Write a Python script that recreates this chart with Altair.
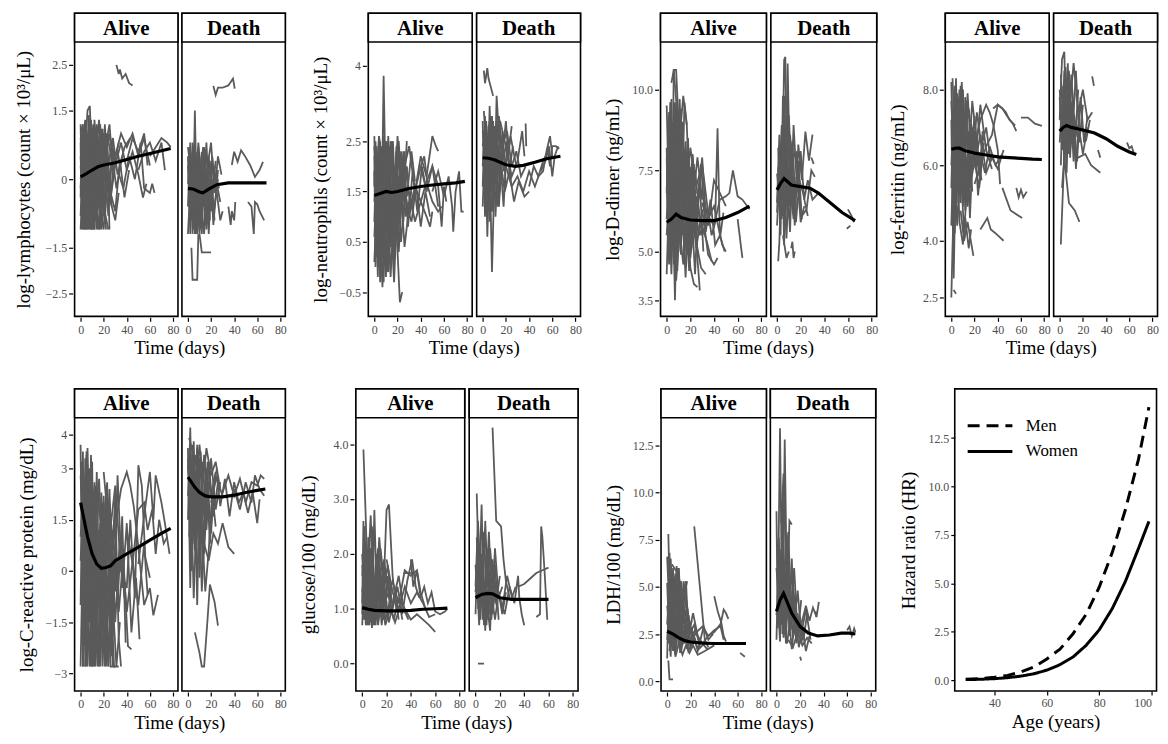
import altair as alt
import pandas as pd

SERIF = "Liberation Serif, Times New Roman, Tinos, DejaVu Serif, serif"
GRAY = "#5a5a5a"
HDR = 29

# ---------------- data: trajectories (day, value) ----------------
LYM_A = [
    [(0,1.2),(2,-1.1),(4,0.9),(6,-0.5),(8,1.1),(12,-1.1)],
    [(0,-0.4),(1,1.0),(3,-1.1),(5,0.8),(7,-0.9),(10,0.6),(14,-0.3)],
    [(0,0.5),(2,-0.8),(4,1.2),(7,-1.1),(9,0.7),(13,-0.6),(17,0.9)],
    [(1,-1.1),(3,0.3),(6,1.5),(8,1.6),(10,0.2),(12,1.0),(15,-1.1)],
    [(0,0.9),(3,-0.2),(5,-1.1),(8,0.4),(11,1.2),(14,-0.8),(18,0.6),(22,-1.1)],
    [(2,0.7),(4,-1.0),(7,0.9),(10,-1.1),(13,0.5),(16,1.3),(19,-0.2),(23,0.9),(25,-1.1)],
    [(0,-0.8),(3,1.1),(6,0.0),(9,-1.1),(12,0.8),(15,-0.5),(18,1.1),(21,-0.9),(24,0.4)],
    [(1,0.2),(4,-0.6),(6,0.6),(9,1.3),(12,-0.2),(16,-1.1),(19,0.7),(22,1.0),(26,-0.4),(30,0.3)],
    [(0,0.0),(2,0.4),(5,-0.9),(8,-0.1),(11,-1.1),(14,0.3),(17,-0.7),(20,-1.1),(23,0.2),(27,-0.6)],
    [(0,1.0),(2,1.2),(4,0.1),(7,-0.3),(10,0.9),(13,1.1),(16,0.1),(20,0.5),(25,1.2),(28,0.2),(33,0.8)],
    [(3,-1.1),(6,-0.4),(9,0.3),(12,-0.9),(15,0.9),(18,-0.4),(21,0.3),(24,-0.8),(27,0.6),(31,-0.2),(36,0.5)],
    [(5,0.2),(8,-0.7),(11,0.5),(14,1.2),(17,0.4),(20,1.0),(24,0.3),(28,0.9),(32,0.1),(38,0.7),(43,0.9)],
    [(10,-0.5),(14,0.2),(18,-0.8),(22,0.6),(26,-0.3),(30,-0.7),(34,0.4),(38,-0.4),(42,0.2)],
    [(20,0.6),(25,1.0),(30,0.3),(35,0.8),(40,0.2),(45,0.6),(50,0.1),(54,-0.4),(57,-0.1)],
    [(25,0.9),(30,0.5),(35,1.0),(40,0.7),(45,1.0),(50,0.5),(55,0.9),(60,0.3)],
    [(32,0.2),(37,-0.2),(42,0.5),(47,0.0),(52,0.8),(55,-0.2),(60,-0.3),(62,-0.1),(64,-0.3)],
    [(40,0.4),(45,0.9),(50,0.6),(55,1.0),(58,0.3)],
    [(50,0.2),(55,0.6),(60,0.8),(65,0.4),(70,0.8),(73,0.2)],
    [(60,0.5),(65,0.7),(70,0.9),(75,0.8),(78,0.7)],
    [(31,2.5),(33,2.3),(34,2.4),(36,2.2),(39,2.3),(42,2.1),(45,2.05)],
    [(0,-1.1),(3,0.5),(5,-1.1),(8,-0.2),(11,-1.1),(14,0.1),(18,-1.1),(20,-0.6),(24,-1.1)],
    [(1,0.6),(4,1.3),(7,0.2),(10,0.9),(13,-0.4),(16,0.7),(20,0.0),(23,1.0),(27,0.4)],
    [(2,-0.2),(5,0.5),(8,-1.1),(11,-0.2),(14,0.6),(17,-1.0),(20,0.2),(24,-0.3),(30,-0.9),(33,-0.3)],
    [(0,0.3),(2,-0.6),(5,1.1),(8,0.5),(11,-0.5),(13,0.4),(16,-0.6),(19,0.1)],
    [(0,0.8),(1,-0.9),(3,0.6),(5,1.0),(7,-0.6),(9,-1.1),(11,0.8),(13,-0.9),(16,0.4),(19,1.1),(22,-0.4)],
    [(1,-0.6),(2,0.9),(4,-0.3),(6,-1.1),(8,0.9),(10,-0.7),(12,1.3),(15,0.2),(17,-1.1),(21,0.8),(25,0.0)],
    [(0,-0.2),(2,1.1),(4,-1.1),(6,0.4),(9,-0.6),(11,0.2),(14,-1.1),(17,1.2),(20,-0.8),(23,0.7),(26,-0.5),(29,0.6)],
    [(3,1.0),(5,-0.4),(7,1.4),(10,0.5),(12,-1.1),(15,0.5),(18,-0.6),(21,1.2),(24,-0.2),(28,0.5),(32,0.6),(35,0.2)],
]
LYM_D = [
    [(0,0.5),(2,-1.2),(4,0.3),(6,-0.8),(8,0.6),(11,-1.1)],
    [(0,-0.6),(2,0.8),(4,-1.2),(6,1.5),(7,0.2),(10,-0.9),(13,0.4)],
    [(1,0.2),(3,-0.9),(5,0.7),(8,-1.2),(10,0.5),(13,-0.6),(16,0.8),(19,-0.9)],
    [(0,-1.2),(2,-0.2),(5,-1.1),(8,0.3),(11,-0.4),(14,-1.2),(17,0.2),(20,-0.7),(24,0.4)],
    [(0,0.7),(3,0.1),(6,-0.5),(9,0.8),(12,-0.2),(15,0.6),(18,-1.2),(21,0.5),(25,-0.4)],
    [(2,-0.8),(4,0.6),(7,-0.1),(10,-1.2),(13,0.7),(16,-0.5),(19,0.4),(22,-1.0),(26,0.2)],
    [(1,-0.3),(3,0.4),(6,-1.2),(9,-0.5),(12,0.6),(15,-1.0),(18,-0.2),(22,0.3),(28,-0.5)],
    [(3,-1.5),(4,-2.2),(8,-2.2),(9,-1.2)],
    [(10,-1.2),(12,-1.6),(20,-1.6)],
    [(22,2.04),(24,1.84),(26,2.0),(30,2.0),(35,2.05),(39,2.2),(40.5,1.98)],
    [(38,0.31),(40,0.6),(43,0.38),(46,0.63),(49,0.52),(54,0.3),(58,0.05),(62,0.2),(65,0.38)],
    [(24,-0.1),(26,-0.5),(28,-0.9),(30,-0.7)],
    [(35,-0.6),(37,-1.0),(38,-0.7),(40,-0.9),(41,-0.5)],
    [(52,-0.5),(55,-0.6),(57,-1.2),(58,-0.5),(60,-0.55),(62,-0.7),(66,-0.9)],
    [(0,0.3),(2,-0.5),(4,0.8),(7,0.1),(9,-0.7),(12,0.2),(15,-0.4),(18,0.5),(20,-0.2),(23,0.1),(27,-0.2)],
    [(14,0.7),(17,0.3),(20,0.8),(23,-0.3),(26,0.5),(29,0.1)],
    [(0,-0.1),(2,0.6),(4,-0.9),(6,0.4),(8,-1.0),(10,0.0),(12,-1.2),(14,0.3),(17,-0.6),(20,0.2),(23,-0.9)],
    [(1,0.7),(3,-0.6),(5,0.2),(7,-1.2),(9,0.7),(11,-0.8),(13,0.5),(16,-1.1),(19,-0.3),(22,-0.8),(26,0.0)],
]
LYM_A_FIT = [(0,0.05),(5,0.12),(10,0.2),(15,0.27),(20,0.31),(30,0.36),(40,0.43),(50,0.5),(60,0.56),(70,0.62),(78,0.67)]
LYM_D_FIT = [(0,-0.2),(5,-0.22),(10,-0.28),(13,-0.3),(18,-0.22),(25,-0.12),(35,-0.08),(50,-0.08),(68,-0.08)]

NEU_A = [
    [(0,2.6),(2,0.2),(4,2.2),(6,0.5),(8,3.8),(10,1.2),(13,2.4)],
    [(0,0.9),(2,2.4),(4,0.0),(6,1.8),(8,-0.3),(10,1.5),(13,0.4),(16,2.1)],
    [(1,1.5),(3,-0.2),(5,2.5),(7,0.8),(9,2.0),(12,-0.1),(15,1.6),(18,0.6)],
    [(0,0.1),(3,1.9),(5,0.6),(8,2.6),(11,0.9),(14,2.5),(17,1.0),(20,2.2)],
    [(2,2.3),(4,1.0),(7,-0.4),(9,1.1),(12,2.6),(15,0.5),(18,1.9),(21,0.3),(24,1.5)],
    [(0,1.9),(2,0.5),(5,1.3),(8,0.3),(11,1.8),(14,-0.2),(17,1.2),(20,2.6),(23,1.1),(26,2.3)],
    [(1,0.4),(4,2.6),(7,1.5),(10,0.0),(13,1.3),(16,2.5),(19,0.8),(22,-0.7),(24,-0.5)],
    [(3,1.2),(6,2.1),(9,0.6),(12,1.7),(15,2.3),(18,1.3),(21,2.5),(25,0.9),(28,2.0),(31,1.1)],
    [(0,1.3),(2,2.0),(5,-0.3),(8,1.9),(11,2.4),(14,1.1),(17,-0.3),(20,1.4),(24,2.0),(28,1.4),(32,2.3),(35,1.7)],
    [(5,0.9),(9,2.3),(13,0.7),(17,2.0),(21,1.0),(25,2.3),(29,0.8),(33,1.9),(37,1.1),(41,2.0),(45,1.5)],
    [(8,1.8),(12,1.0),(16,1.6),(20,0.6),(24,1.8),(28,1.2),(32,0.9),(36,1.6),(40,0.8),(44,1.5),(48,1.0)],
    [(15,2.1),(20,1.4),(25,1.9),(30,2.4),(35,1.5),(40,2.2),(45,1.8),(50,2.6),(53,2.4),(55,2.3)],
    [(20,1.2),(25,1.7),(30,1.0),(35,1.5),(40,2.0),(43,2.2),(46,1.6),(50,1.3),(55,1.1),(58,1.2)],
    [(30,1.5),(35,0.9),(40,1.3),(45,1.0),(48,0.8),(50,1.1)],
    [(40,2.0),(45,1.5),(50,2.0),(55,1.6),(58,0.8),(60,1.6),(62,1.3)],
    [(50,1.5),(55,1.9),(60,1.4),(64,1.8),(67,1.2),(68,0.7),(70,1.5),(73,1.9),(75,1.1),(77,1.1)],
    [(30,1.1),(35,1.6),(40,1.3),(45,1.7),(50,2.0),(55,1.2)],
    [(0,2.2),(1,0.0),(3,1.7),(6,2.4),(9,0.4),(12,-0.1),(14,0.9)],
    [(2,1.1),(5,1.8),(8,0.1),(11,2.2),(14,1.6),(17,0.1),(20,1.7),(23,0.5),(27,1.6)],
    [(0,0.6),(2,1.6),(4,2.6),(7,2.0),(10,2.5),(13,1.8),(16,0.3),(19,2.4),(22,1.9),(26,0.4),(30,1.2)],
    [(0,1.6),(1,2.5),(3,0.8),(5,1.9),(7,0.2),(9,2.4),(11,0.7),(13,1.9),(16,0.9),(19,2.3),(22,1.0)],
    [(1,0.7),(3,2.2),(6,0.9),(8,2.2),(10,-0.2),(12,1.4),(15,2.5),(18,0.5),(21,1.8),(25,1.3),(28,2.5)],
    [(0,2.4),(2,1.2),(4,1.7),(6,0.1),(9,1.5),(11,2.1),(14,0.4),(17,2.0),(20,0.9),(23,2.3),(27,1.0),(32,1.5)],
]
NEU_D = [
    [(0,2.9),(2,1.0),(4,2.6),(6,1.4),(8,3.0),(10,1.8),(13,2.6)],
    [(0,1.6),(2,3.0),(4,0.6),(6,2.2),(8,-0.1),(10,1.7),(12,2.9),(15,1.5)],
    [(1,2.2),(3,1.2),(5,2.8),(7,1.6),(9,2.9),(11,1.0),(14,2.4),(17,1.8)],
    [(0,2.4),(3,2.9),(5,1.9),(8,1.1),(11,2.6),(14,1.3),(17,2.7),(20,1.6)],
    [(2,1.8),(4,2.4),(7,3.0),(10,1.4),(12,3.4),(15,2.2),(18,1.2),(21,2.5),(24,1.7)],
    [(0,1.2),(2,2.5),(5,1.5),(8,2.7),(11,2.0),(14,3.0),(17,2.2),(20,2.9),(23,1.9),(26,2.4)],
    [(1,3.1),(4,2.0),(7,2.5),(10,2.2),(13,1.2),(16,2.0),(19,1.5),(23,1.9),(27,1.3),(31,1.7),(36,1.4),(40,1.5)],
    [(5,2.3),(9,1.5),(13,2.8),(17,2.4),(21,2.7),(25,2.0),(29,2.3),(33,1.8),(37,2.0)],
    [(10,2.6),(15,1.9),(20,2.4),(25,1.8),(30,2.1),(34,2.7),(36,2.2)],
    [(37,2.85),(37.5,2.4)],
    [(1,3.9),(2,3.65),(4,3.95),(5,3.75),(9,3.4)],
    [(20,2.0),(25,1.6),(30,1.8),(35,1.5),(40,1.9),(45,1.6),(48,1.8),(52,1.9),(55,2.3),(58,2.6),(60,2.2)],
    [(40,1.6),(44,2.0),(48,1.8),(52,2.1),(56,2.3),(58,2.0),(60,2.4),(63,2.4),(66,2.35)],
    [(50,1.9),(54,2.1),(57,2.4),(60,1.8),(62,2.2),(65,2.4)],
    [(1,2.0),(3,1.4),(5,2.2),(6,0.9),(8,1.9),(10,2.3),(12,1.5),(15,2.6),(18,1.9)],
    [(0,2.7),(3,2.2),(6,2.9),(9,2.0),(12,2.4),(15,2.9),(18,2.6),(22,2.2),(25,2.8)],
    [(0,2.0),(2,2.8),(4,1.3),(6,3.2),(8,1.6),(10,2.8),(12,2.0),(14,1.2),(17,2.4),(20,2.0),(24,2.6),(29,2.0)],
]
NEU_A_FIT = [(0,1.42),(5,1.46),(10,1.5),(15,1.48),(20,1.5),(30,1.56),(40,1.6),(50,1.63),(60,1.65),(70,1.67),(78,1.7)]
NEU_D_FIT = [(0,2.17),(5,2.16),(10,2.13),(15,2.08),(20,2.03),(28,2.0),(35,2.02),(45,2.08),(55,2.15),(67,2.2)]

DDI_A = [
    [(0,8.2),(2,5.0),(4,9.7),(6,4.6),(8,9.5),(10,5.3),(13,8.0)],
    [(0,6.0),(2,7.8),(4,4.8),(6,10.6),(8,10.6),(10,9.0),(13,5.5),(16,7.2)],
    [(1,5.2),(3,8.8),(5,6.1),(7,9.6),(9,4.4),(12,8.4),(15,5.0),(18,7.6)],
    [(0,7.0),(2,5.6),(4,8.6),(7,3.5),(9,6.7),(12,9.4),(15,4.6),(18,8.5),(21,5.4)],
    [(2,6.5),(4,4.3),(7,8.9),(10,5.8),(13,9.0),(16,6.3),(19,4.4),(22,7.9),(25,5.2)],
    [(0,5.5),(3,7.4),(6,5.9),(9,8.2),(12,4.9),(15,9.6),(17,8.9),(20,6.0),(23,7.7),(26,4.8),(28,3.8)],
    [(1,9.0),(4,7.3),(7,5.2),(10,7.9),(13,6.4),(16,4.2),(19,6.9),(22,8.0),(25,5.8),(28,7.1),(31,5.0)],
    [(3,4.8),(6,6.7),(9,5.4),(12,6.8),(15,7.9),(18,5.2),(21,6.3),(24,4.3),(27,6.8),(30,7.9),(33,6.1)],
    [(5,7.5),(9,6.0),(13,7.2),(17,5.7),(21,7.4),(25,6.2),(29,7.7),(33,5.6),(37,6.6),(41,5.2),(45,5.5),(49,5.0)],
    [(10,6.5),(15,5.4),(20,6.8),(25,5.1),(30,6.3),(35,4.9),(40,4.6),(43,4.8)],
    [(15,6.0),(20,8.2),(25,7.0),(30,7.7),(35,6.2),(38,5.5),(41,5.9),(43,8.8),(45,5.4),(48,6.2)],
    [(20,5.9),(25,6.7),(30,5.5),(35,6.1),(40,5.8),(45,6.6),(50,6.7),(53,6.8),(56,7.5),(60,6.7),(64,6.6),(70,6.3)],
    [(25,6.5),(30,6.9),(35,6.0),(40,6.4),(44,5.7),(47,5.2),(50,5.0)],
    [(60,6.0),(64,4.8)],
    [(0,4.3),(2,6.8),(4,5.4),(6,7.2),(8,4.1),(11,5.7),(14,4.6),(17,6.3),(20,4.5),(23,4.0),(26,3.9)],
    [(4,10.2),(6,10.6),(9,9.2),(11,8.5),(14,9.8),(17,8.9)],
    [(0,6.8),(2,9.3),(4,6.2),(7,7.7),(10,5.0),(13,7.0),(16,8.4),(19,5.8),(22,6.5),(26,7.9),(30,6.6)],
    [(30,6.5),(35,5.8),(40,7.2),(45,6.8),(50,6.4)],
    [(1,7.6),(3,5.8),(5,9.0),(8,6.4),(11,9.7),(14,5.9),(17,8.0),(20,4.8),(24,6.2),(28,5.5),(32,6.0)],
    [(0,9.5),(2,6.4),(4,5.0),(6,8.7),(8,5.6),(10,9.2),(12,6.6),(15,7.0),(18,4.9),(21,7.1),(25,6.8)],
    [(1,6.3),(3,9.6),(5,7.0),(7,4.7),(10,8.8),(12,5.3),(14,7.4),(17,5.0),(20,7.6),(24,5.5),(29,4.5),(33,4.3)],
    [(0,7.9),(2,4.6),(5,8.0),(7,6.9),(9,9.4),(12,5.9),(15,8.1),(18,6.6),(21,5.1),(24,7.5),(28,6.0),(34,5.3),(38,4.7)],
]
DDI_D = [
    [(0,6.5),(2,8.6),(4,6.0),(6,10.9),(7,11.0),(8,8.3),(10,6.2)],
    [(1,7.6),(3,5.5),(5,9.8),(7,6.4),(9,10.8),(11,7.0),(14,6.0)],
    [(0,5.8),(2,7.2),(4,8.9),(6,5.2),(8,8.0),(10,6.8),(13,8.4),(16,6.3)],
    [(1,4.7),(2,5.3),(4,7.8),(7,7.0),(10,9.2),(12,7.5),(15,6.6),(18,7.8),(21,6.0)],
    [(3,6.8),(5,7.6),(8,5.4),(11,7.9),(14,6.2),(17,7.4),(20,5.9),(23,6.4)],
    [(0,7.4),(3,6.3),(6,8.7),(9,6.0),(12,7.7),(15,5.8),(18,8.3),(21,7.2),(24,8.7),(27,7.8),(30,8.6)],
    [(5,5.5),(8,4.8),(10,5.0)],
    [(12,5.1),(13,5.3),(14,4.8),(15,5.0)],
    [(2,6.9),(5,6.1),(8,7.6),(11,5.6),(14,8.9),(17,6.9),(20,8.1),(23,6.6),(26,7.2),(30,6.6),(35,6.8)],
    [(10,7.1),(14,6.5),(18,7.0),(21,6.1),(25,6.3),(29,7.5),(32,7.3)],
    [(29,7.9),(31,7.7)],
    [(60,6.3),(63,6.1),(65,5.9)],
    [(59,5.7),(62,5.8)],
    [(0,6.2),(2,7.9),(4,6.8),(6,9.3),(8,7.2),(11,8.6),(13,7.8),(16,8.1),(19,6.7)],
    [(4,8.0),(6,9.8),(8,7.4),(9,9.5),(12,6.9),(15,7.3)],
    [(1,8.2),(3,6.6),(5,8.4),(7,5.9),(9,7.8),(11,6.4),(13,7.6),(16,5.9),(19,7.2),(22,6.8),(26,6.1)],
]
DDI_A_FIT = [(0,5.9),(4,6.0),(8,6.15),(12,6.05),(20,5.97),(30,5.95),(40,5.95),(50,6.05),(60,6.2),(70,6.4)]
DDI_D_FIT = [(0,6.9),(3,7.1),(6,7.25),(9,7.15),(12,7.05),(20,7.0),(28,6.95),(35,6.8),(45,6.5),(55,6.2),(66,5.95)]

FER_A = [
    [(0,8.2),(2,5.2),(4,8.3),(6,5.8),(8,8.1),(10,6.1),(13,7.7)],
    [(0,5.4),(2,7.9),(4,4.8),(6,7.6),(8,5.0),(10,8.0),(13,5.5),(16,7.2)],
    [(1,6.6),(3,4.2),(5,7.9),(7,5.6),(9,7.3),(12,4.8),(15,6.9),(18,5.3)],
    [(0,7.2),(2,3.0),(4,6.2),(7,8.0),(10,5.2),(13,7.6),(16,4.6),(19,6.8)],
    [(0,2.5),(1,3.8),(3,5.9),(5,4.4),(8,6.0),(11,4.2),(14,5.7)],
    [(2,2.7),(4,2.6)],
    [(2,7.5),(5,5.9),(8,7.2),(11,6.0),(14,7.9),(17,6.3),(20,7.3),(24,5.7),(27,6.9)],
    [(4,6.3),(7,7.8),(10,5.7),(13,6.8),(16,5.4),(19,6.4),(22,7.4),(26,6.5),(30,7.0),(34,6.1)],
    [(1,5.7),(4,6.9),(7,4.5),(10,3.9),(12,4.6),(15,3.8),(17,4.3)],
    [(8,4.8),(11,4.0),(14,4.5),(19,3.6)],
    [(5,7.0),(10,6.5),(15,7.5),(20,6.0),(25,6.8),(30,5.8),(35,6.2),(40,5.9),(45,6.4)],
    [(10,6.2),(15,5.2),(20,6.5),(25,7.2),(30,7.6),(33,7.4),(36,7.1),(40,6.4),(42,5.5)],
    [(20,5.5),(25,6.0),(30,6.5),(35,6.8),(40,7.6),(44,7.5),(48,7.3),(53,7.1),(56,6.9)],
    [(25,4.3),(31,4.6),(34,4.3),(38,4.2),(45,4.0)],
    [(44,5.4),(51,4.8),(61,4.6)],
    [(56,5.4),(58,5.15),(60,5.35),(62,5.15),(65,5.3)],
    [(60,7.26),(66,7.26),(72,7.1),(78,7.04)],
    [(36,7.5),(40,7.6),(44,7.5),(47,7.4),(50,7.2),(55,7.05)],
    [(0,6.0),(3,8.1),(6,5.5),(9,7.6),(12,5.9),(15,6.4),(18,7.0),(21,5.9),(25,6.3),(29,5.8),(33,6.5),(38,6.0),(44,6.3)],
    [(2,4.9),(5,7.1),(8,5.3),(11,6.7),(14,4.9),(17,6.0),(20,6.9),(23,5.2),(26,6.1)],
    [(0,7.7),(2,5.9),(4,7.4),(6,5.0),(8,7.0),(10,4.9),(12,7.8),(15,6.1),(18,7.7),(22,6.6),(26,5.6)],
    [(1,8.3),(3,6.8),(5,5.3),(7,6.6),(9,8.2),(11,6.6),(14,5.3),(17,7.1),(21,6.2),(25,7.6),(30,6.4),(35,5.9)],
    [(0,4.4),(2,6.6),(4,5.5),(6,7.3),(8,5.9),(11,5.1),(14,6.3),(17,5.6),(20,6.1),(24,5.4),(28,6.6)],
]
FER_D = [
    [(0,7.2),(2,8.8),(4,9.0),(6,6.5),(8,8.5),(10,6.8),(13,7.9)],
    [(1,6.0),(3,8.1),(5,6.8),(7,8.7),(9,6.2),(11,7.7),(14,5.9),(17,7.4)],
    [(0,7.8),(2,6.4),(4,7.5),(6,5.8),(8,7.9),(11,6.9),(14,8.5),(17,6.6),(20,7.6)],
    [(1,3.9),(3,5.5),(5,7.1),(7,7.5),(9,8.0)],
    [(2,5.4),(4,6.2),(8,5.0),(13,4.8),(17,4.5)],
    [(3,7.0),(6,8.3),(9,6.4),(12,7.2),(15,6.1),(18,7.8),(21,6.6),(24,7.3)],
    [(5,6.6),(9,7.9),(13,6.3),(16,6.2),(22,6.3),(27,6.0),(35,5.8)],
    [(8,7.3),(12,8.7),(16,7.4),(20,8.0),(24,7.2),(28,7.4)],
    [(28,8.35),(29.5,8.1)],
    [(33,6.4),(35,6.2)],
    [(58,6.6),(60,6.45),(62,6.5),(64,6.3)],
    [(0,6.6),(2,7.6),(4,6.0),(6,8.1),(8,6.9),(10,8.4),(12,7.4),(15,6.8),(19,7.0),(23,6.7),(26,7.2)],
    [(1,8.4),(3,7.1),(5,8.6),(7,7.4),(10,7.6),(13,6.5),(16,8.0)],
    [(0,8.0),(2,7.0),(4,8.5),(6,7.7),(8,6.3),(10,7.3),(12,6.1),(14,7.1),(17,6.9),(20,6.3),(24,7.0)],
]
FER_A_FIT = [(0,6.42),(4,6.45),(7,6.45),(12,6.38),(20,6.32),(30,6.27),(40,6.22),(50,6.2),(60,6.18),(70,6.16),(78,6.15)]
FER_D_FIT = [(0,6.9),(3,7.0),(6,7.05),(10,7.0),(20,6.93),(30,6.85),(40,6.7),(50,6.5),(60,6.35),(66,6.28)]

CRP_A = [
    [(0,3.7),(2,-2.8),(4,3.3),(6,-2.0),(8,3.0),(10,-2.8),(13,2.5)],
    [(0,-1.0),(2,3.5),(4,-2.8),(6,2.8),(8,-1.5),(10,3.2),(12,-2.6),(15,1.9)],
    [(1,1.5),(3,-2.2),(5,3.4),(7,-0.5),(9,2.2),(12,-2.8),(15,1.2),(18,-2.0)],
    [(0,2.8),(3,0.5),(5,-2.8),(8,1.7),(11,-1.2),(14,2.9),(17,-2.8),(20,0.9),(23,-1.8)],
    [(2,-2.8),(4,1.0),(7,3.0),(10,-2.3),(13,0.3),(16,-2.8),(19,2.0),(22,-2.8),(25,1.0),(28,-2.8)],
    [(0,0.3),(3,2.6),(6,-1.3),(9,-2.8),(12,1.9),(15,-0.9),(18,2.3),(21,-1.4),(24,2.1),(27,-2.5),(30,0.6)],
    [(1,3.2),(4,-0.8),(7,1.5),(10,-2.8),(13,-0.3),(16,1.1),(19,-2.8),(22,-0.2),(25,2.4),(28,-1.0),(31,-2.8),(34,-1.5)],
    [(3,2.0),(6,-2.8),(9,0.8),(12,2.6),(15,-2.5),(18,-0.6),(21,1.7),(24,-2.8),(27,0.2),(30,2.2),(33,-2.0),(35,-2.8)],
    [(5,3.5),(9,1.2),(13,-1.8),(17,1.4),(21,-2.8),(25,-0.6),(29,1.5),(33,-1.2),(37,0.4),(41,-2.2),(44,-2.3)],
    [(8,2.9),(12,0.0),(16,2.7),(20,-0.8),(24,1.5),(28,-1.9),(32,2.8),(36,-0.5),(40,1.4),(44,-1.8),(48,-0.2),(51,-2.0)],
    [(10,1.8),(15,2.2),(20,0.5),(25,2.0),(30,-0.6),(35,1.0),(40,-1.2),(45,0.3),(50,-1.0),(55,0.8),(58,-0.7)],
    [(20,2.9),(25,1.0),(30,2.5),(35,0.0),(40,-0.5),(43,1.5),(47,-0.8),(50,3.1),(53,2.5),(56,0.4),(60,-0.2)],
    [(30,1.3),(35,2.4),(40,2.9),(43,2.5),(46,1.9),(50,0.7),(55,-1.0),(60,-0.5),(63,-1.3),(67,-0.7)],
    [(40,1.2),(45,0.2),(50,1.8),(55,2.0),(58,1.2),(62,1.8),(65,0.5),(68,1.5),(72,0.8),(75,1.0)],
    [(50,0.2),(55,1.6),(60,2.9),(63,1.5),(65,2.8),(70,2.0),(73,1.4),(77,0.5)],
    [(0,-2.8),(2,0.9),(5,-0.2),(7,2.4),(10,0.9),(13,-2.8),(16,0.6),(19,-1.6),(22,2.1),(26,-0.5),(29,-2.8),(33,-2.8)],
    [(1,-1.8),(3,0.8),(6,3.6),(9,-1.0),(11,0.3),(14,-1.6),(17,0.3),(20,-2.3),(23,0.6),(26,1.7),(30,-1.5),(34,0.9),(38,-0.8)],
    [(0,1.0),(2,2.4),(5,0.2),(8,-2.8),(11,2.0),(14,0.8),(17,-1.3),(20,1.3),(23,2.6),(26,-2.8),(30,-2.8)],
    [(4,-2.8),(6,-1.8),(9,3.4),(12,-1.0),(15,-2.8),(18,1.0),(21,-0.4),(24,-2.8),(28,1.2),(32,-0.9),(36,1.6),(39,-2.1)],
    [(2,3.0),(5,1.6),(8,-0.5),(11,-2.8),(14,1.5),(17,-0.1),(20,2.2),(23,-0.7),(26,0.8),(30,-0.4)],
]
CRP_D = [
    [(0,3.6),(2,-0.5),(4,3.3),(6,0.6),(8,3.7),(10,-0.2),(13,3.0)],
    [(0,1.5),(2,4.2),(4,0.8),(6,2.9),(8,-1.0),(10,2.4),(13,0.2),(16,2.8)],
    [(1,2.5),(3,0.0),(5,3.8),(7,1.2),(9,3.0),(12,-0.6),(15,1.7),(18,3.2)],
    [(0,3.1),(3,1.8),(5,-0.8),(8,2.2),(11,3.5),(14,0.5),(17,2.6),(20,1.1),(23,2.7)],
    [(2,3.5),(4,2.1),(7,0.2),(10,3.3),(13,1.9),(16,3.0),(19,0.8),(22,2.4),(25,3.0)],
    [(1,1.0),(4,2.7),(7,3.4),(10,1.5),(13,3.2),(16,1.2),(19,2.8),(22,1.6),(26,2.6),(30,2.2)],
    [(6,-1.8),(10,-2.4),(12,-2.8),(14,-2.8),(17,-1.4),(19,-0.4),(23,-0.9),(26,-1.6)],
    [(14,0.8),(18,0.3),(22,1.1),(26,0.8),(30,1.4),(35,0.7),(40,0.5)],
    [(20,2.0),(25,2.8),(28,1.9),(32,2.7),(36,1.6),(40,2.6),(44,2.0),(48,2.3),(52,1.7),(56,2.3),(60,1.4),(62,2.1)],
    [(30,2.3),(35,2.8),(40,2.2),(45,2.7),(50,2.0),(55,2.6),(60,2.5),(63,2.8),(66,2.7)],
    [(40,2.4),(45,1.8),(50,2.6),(55,2.0),(58,2.8),(62,2.4),(66,2.2)],
    [(0,2.2),(2,3.3),(5,1.6),(8,3.6),(11,1.9),(14,3.4),(17,2.1),(20,3.3),(24,1.8),(28,2.6)],
    [(3,2.4),(6,0.6),(9,2.6),(12,1.4),(15,-0.6),(18,0.6),(21,2.3),(24,1.3)],
    [(1,3.9),(4,3.5),(7,2.5),(10,3.7),(13,2.6),(16,3.6),(20,2.8),(24,3.2),(28,2.4)],
    [(0,3.3),(2,1.9),(4,3.7),(6,2.0),(8,3.2),(10,0.9),(12,2.7),(14,1.6),(17,3.2),(20,2.2),(24,2.9)],
]
CRP_A_FIT = [(0,2.0),(3,1.5),(6,1.0),(10,0.5),(14,0.2),(18,0.08),(22,0.1),(26,0.15),(30,0.3),(40,0.5),(50,0.7),(60,0.9),(70,1.1),(78,1.25)]
CRP_D_FIT = [(0,2.75),(3,2.6),(6,2.45),(10,2.3),(15,2.2),(20,2.17),(30,2.17),(40,2.22),(50,2.3),(60,2.36),(67,2.4)]

GLU_A = [
    [(1,3.9),(3,2.6),(5,1.0),(7,1.8),(9,0.8)],
    [(0,0.9),(2,2.5),(4,0.7),(6,1.9),(8,0.8),(10,2.8),(12,1.2),(14,0.9)],
    [(1,1.5),(3,0.7),(5,2.3),(7,0.9),(9,1.6),(11,0.7),(14,1.8),(17,0.8)],
    [(0,2.0),(2,1.1),(4,1.7),(6,0.7),(8,2.5),(10,1.1),(13,1.6),(16,0.7),(19,1.3)],
    [(2,0.8),(4,1.4),(7,2.7),(9,1.4),(11,0.8),(14,1.4),(17,1.0),(20,2.8),(22,2.9),(25,1.6),(28,1.0)],
    [(0,1.3),(3,1.9),(6,1.1),(9,0.7),(12,2.0),(15,1.2),(18,0.8),(21,1.6),(24,0.9),(27,1.3),(30,0.8)],
    [(1,1.1),(4,0.9),(7,1.5),(10,0.7),(13,1.3),(16,1.6),(19,1.1),(22,0.75),(26,1.2),(30,1.6),(34,1.0),(38,0.8)],
    [(5,1.7),(9,1.0),(13,2.1),(17,1.2),(21,1.8),(25,1.0),(29,1.4),(33,0.9),(37,1.5),(41,1.9),(44,1.4),(47,1.2)],
    [(10,1.3),(15,0.9),(20,1.2),(25,1.5),(30,1.1),(35,1.7),(40,1.6),(45,1.7),(48,1.3),(52,1.0)],
    [(20,1.9),(25,1.3),(30,1.0),(35,1.4),(40,1.1),(45,1.3),(50,1.1),(55,0.85),(60,0.9)],
    [(30,1.2),(35,1.0),(40,0.8),(45,0.9),(50,0.8),(55,0.7),(60,0.58)],
    [(40,1.9),(42,1.4),(45,1.7),(48,1.2),(51,1.4),(54,1.1),(57,1.3),(60,0.95),(64,0.9),(68,0.95),(70,1.0)],
    [(0,0.7),(2,1.8),(4,1.2),(6,1.4),(8,0.65),(10,1.5),(12,0.9),(15,2.1),(18,1.5),(21,0.9),(24,1.4)],
    [(0,1.6),(2,2.2),(5,1.3),(8,1.9),(11,0.9),(14,2.3),(17,1.5),(20,1.1)],
    [(34,1.65),(42,1.65)],
    [(3,1.2),(6,2.1),(9,1.2),(12,1.6),(15,1.0),(18,1.9),(22,1.2),(26,0.8),(30,1.2),(33,0.8)],
    [(0,1.1),(1,2.6),(3,1.0),(5,1.2),(7,0.75),(9,1.9),(11,1.0),(13,0.75),(16,1.3),(19,0.8),(23,1.1)],
    [(1,0.8),(3,1.6),(5,0.7),(7,2.1),(9,0.9),(11,1.3),(13,0.7),(16,1.2),(19,0.7),(23,1.0),(27,0.75),(32,1.1)],
    [(0,1.8),(2,1.3),(4,2.1),(6,1.0),(8,1.6),(10,0.8),(12,1.8),(14,1.1),(17,1.7),(20,0.9),(24,1.2)],
]
GLU_D = [
    [(1,3.1),(3,1.4),(5,2.9),(7,1.0),(9,2.0)],
    [(0,0.9),(2,2.3),(4,0.8),(6,1.8),(8,0.6),(10,2.1),(12,1.0)],
    [(1,1.6),(3,0.7),(5,2.0),(7,1.2),(9,0.7),(11,1.7),(14,0.9),(17,1.5)],
    [(0,1.3),(2,1.9),(4,1.1),(7,2.4),(9,1.2),(12,0.6),(14,1.9),(17,1.1),(20,1.6)],
    [(2,1.0),(5,1.6),(8,0.9),(11,2.4),(13,1.3),(16,0.8),(19,1.3),(22,0.9),(25,1.3)],
    [(14,4.3),(17,2.6),(19,2.55),(21,2.5),(23,1.9),(25,1.5),(28,1.2)],
    [(2,0.0),(7,0.0)],
    [(20,1.2),(24,0.9),(28,1.4),(32,1.1),(35,1.6),(36,1.2),(38,0.9),(40,0.7)],
    [(35,1.4),(40,1.45),(45,1.55),(50,1.65),(55,1.7),(60,1.75)],
    [(50,0.85),(53,0.9),(54,2.5),(55,2.3),(57,1.6),(59,0.8)],
    [(10,1.5),(14,1.1),(18,1.4),(22,1.0),(26,1.6),(30,1.2),(33,1.4)],
    [(0,1.4),(2,2.6),(4,1.7),(6,1.3),(8,2.6),(10,1.4),(12,2.1),(15,1.3),(18,1.0)],
    [(1,2.3),(3,1.1),(5,1.5),(7,0.7),(10,1.1),(13,0.8),(16,1.8),(19,0.8)],
    [(0,1.8),(2,1.1),(4,2.2),(6,0.8),(8,1.5),(10,0.8),(12,1.6),(14,1.2),(16,2.1),(19,1.2),(22,1.4)],
]
GLU_A_FIT = [(0,1.02),(5,0.99),(10,0.97),(20,0.96),(30,0.96),(40,0.97),(50,0.99),(60,1.0),(70,1.01)]
GLU_D_FIT = [(0,1.2),(5,1.26),(10,1.28),(14,1.27),(20,1.2),(30,1.17),(40,1.17),(50,1.17),(60,1.17)]

LDH_A = [
    [(1,7.8),(3,2.5),(5,6.0),(7,1.5),(9,5.0),(12,2.0)],
    [(0,1.2),(2,6.8),(4,1.9),(6,5.5),(8,1.7),(10,6.0),(12,2.3),(15,4.8)],
    [(1,3.5),(3,1.3),(5,4.8),(7,2.2),(9,4.2),(11,1.5),(14,3.6),(17,1.7)],
    [(0,5.2),(2,2.0),(5,3.0),(7,5.6),(10,2.5),(13,4.0),(16,5.3),(18,2.6),(21,3.2)],
    [(1,1.1),(2,0.1),(5,0.1)],
    [(3,3.9),(6,2.4),(9,6.0),(12,3.0),(15,2.0),(18,3.5),(21,2.2),(24,2.8),(28,1.8)],
    [(5,2.6),(8,4.5),(11,2.1),(14,5.3),(16,4.2),(19,2.7),(22,3.6),(26,2.4),(30,2.0),(34,1.7)],
    [(0,2.2),(3,4.2),(6,2.0),(9,3.3),(12,1.6),(15,2.9),(18,1.9),(22,2.5),(26,1.6),(31,2.9),(35,2.2),(39,2.5)],
    [(10,2.8),(15,3.8),(20,2.1),(25,2.6),(30,2.9),(35,2.4),(40,2.7),(45,2.9),(48,3.8),(50,3.6),(52,3.3)],
    [(23,8.2),(32,2.2),(35,1.8)],
    [(40,4.5),(43,3.7),(46,3.1),(48,2.4),(50,2.1)],
    [(30,2.0),(35,2.4),(40,2.6),(45,3.0),(48,2.2)],
    [(62,1.5),(66,1.3)],
    [(1,4.6),(3,6.5),(5,3.8),(7,5.7),(9,3.0),(11,4.6),(13,2.8),(16,3.0),(20,1.8),(24,2.2)],
    [(0,3.0),(2,5.2),(4,3.4),(6,4.0),(8,2.9),(10,5.6),(12,3.6),(14,2.2),(17,3.9),(20,2.6),(23,3.0),(27,2.1)],
    [(2,1.6),(4,2.8),(7,1.3),(10,2.0),(13,1.4),(16,1.9),(19,1.5),(22,1.9),(26,1.4),(32,1.6),(40,1.9)],
    [(4,6.2),(6,6.0),(9,5.7),(11,5.2),(14,4.4),(17,5.3)],
    [(0,4.0),(2,2.6),(4,5.4),(6,1.8),(8,4.3),(10,1.9),(12,4.8),(14,3.2),(17,2.2),(20,2.9),(25,2.0)],
    [(1,2.0),(3,3.0),(5,1.6),(7,3.6),(9,2.3),(11,3.1),(13,1.9),(15,2.6),(18,1.6),(22,2.2),(27,1.7),(33,2.1)],
    [(0,6.6),(2,3.6),(4,5.0),(6,2.8),(8,6.1),(10,3.9),(12,5.3),(14,3.3),(16,4.4),(19,3.0),(22,2.3)],
]
LDH_D = [
    [(0,9.0),(1,3.0),(3,13.4),(5,2.5),(7,12.8),(9,4.0),(11,8.5),(13,8.3)],
    [(0,2.2),(2,7.6),(4,3.0),(6,6.3),(8,2.0),(10,5.4),(12,2.7),(15,4.0)],
    [(1,4.5),(3,2.1),(5,9.6),(7,3.5),(9,7.6),(11,2.4),(14,5.2),(17,2.9)],
    [(0,3.5),(3,5.8),(6,2.3),(9,6.9),(12,3.3),(15,6.0),(18,2.5),(21,4.3)],
    [(2,5.9),(5,4.0),(8,7.2),(11,2.8),(14,4.5),(17,2.0),(20,3.4),(23,2.2),(26,3.6)],
    [(1,2.8),(4,4.8),(7,2.6),(10,3.8),(13,1.7),(16,3.6),(19,1.8),(22,2.8),(25,1.6),(28,2.4)],
    [(4,8.4),(6,11.0),(8,6.2),(10,7.9),(12,4.6),(15,3.0),(18,4.8),(21,2.5),(25,3.8),(29,2.2)],
    [(5,3.1),(9,2.0),(13,3.9),(17,2.4),(21,3.0),(25,4.0),(28,3.2),(31,3.9),(34,3.4)],
    [(33,3.7),(34,3.4),(36,4.2)],
    [(20,1.3),(21,1.1)],
    [(60,2.7),(62,2.9),(64,2.4),(66,2.8),(67,2.6)],
    [(10,2.2),(14,1.8),(18,2.6),(22,1.9),(26,2.3),(30,2.0)],
    [(0,6.0),(2,4.2),(4,7.0),(6,5.1),(8,3.3),(10,6.4),(12,4.1),(14,2.3),(17,3.1)],
    [(1,6.8),(3,3.6),(5,5.3),(7,2.9),(9,5.8),(11,3.4),(13,6.5),(15,2.7),(18,3.6),(21,2.0),(24,2.9)],
]
LDH_A_FIT = [(0,2.65),(5,2.5),(10,2.3),(15,2.15),(20,2.08),(30,2.02),(40,2.0),(50,2.0),(60,2.0),(67,2.0)]
LDH_D_FIT = [(0,3.7),(3,4.3),(6,4.65),(9,4.2),(13,3.6),(20,2.9),(27,2.55),(35,2.4),(45,2.45),(55,2.55),(62,2.55),(67,2.5)]

HR_AGE = [29, 35, 40, 45, 50, 55, 60, 65, 70, 75, 80, 85, 90, 95, 99]
HR_MEN = [0.05, 0.09, 0.15, 0.25, 0.42, 0.68, 1.1, 1.6, 2.4, 3.4, 4.8, 6.6, 8.8, 11.4, 14.1]
HR_WOMEN = [0.03, 0.05, 0.08, 0.13, 0.21, 0.33, 0.52, 0.8, 1.2, 1.8, 2.6, 3.7, 5.1, 6.8, 8.2]

GROUPS = ["Alive", "Death"]
X_TICKS = [0, 20, 40, 60, 80]


def make_df(alive, death, alive_fit, death_fit, lo):
    rows = []
    for g, trajs in zip(GROUPS, (alive, death)):
        for i, tr in enumerate(trajs):
            for t, v in tr:
                rows.append({"group": g, "kind": "s", "id": f"{g}{i}", "t": t, "v": v})
    for g, fit in zip(GROUPS, (alive_fit, death_fit)):
        for t, v in fit:
            rows.append({"group": g, "kind": "m", "id": g + "fit", "t": t, "v": v})
    for g in GROUPS:
        rows.append({"group": g, "kind": "h", "id": g + "hdr", "t": 0, "v": lo})
    return pd.DataFrame(rows)


def panel(df, W, H, ydom, yvals, yfmt, ytitle, ext, axw):
    xenc = alt.X("t:Q", scale=alt.Scale(domain=[-5.2, 84.3], nice=False, zero=False),
                 axis=alt.Axis(values=X_TICKS, format="d", title=None, labelPadding=3))
    yenc = alt.Y("v:Q", scale=alt.Scale(domain=ydom, range=[H, HDR], nice=False, zero=False),
                 axis=alt.Axis(values=yvals, format=yfmt, title=ytitle, labelPadding=2,
                               minExtent=ext, maxExtent=ext, titlePadding=8))
    spag = alt.Chart().mark_line(color=GRAY, strokeWidth=1.8).encode(
        x=xenc, y=yenc, detail="id:N", order="t:Q").transform_filter("datum.kind == 's'")
    fit = alt.Chart().mark_line(color="black", strokeWidth=3.2).encode(
        x=xenc, y=yenc, order="t:Q").transform_filter("datum.kind == 'm'")
    hdr = alt.Chart().mark_rect(fill="white", stroke="black", strokeWidth=1.6).encode(
        x=alt.value(0), x2=alt.value(W), y=alt.value(0), y2=alt.value(HDR)
    ).transform_filter("datum.kind == 'h'")
    txt = alt.Chart().mark_text(font=SERIF, fontSize=21, fontWeight="bold", color="black",
                                baseline="middle", align="center").encode(
        x=alt.value(W / 2), y=alt.value(HDR / 2 + 1), text="group:N"
    ).transform_filter("datum.kind == 'h'")
    layer = alt.layer(spag, fit, hdr, txt).properties(width=W, height=H)
    return layer.facet(
        column=alt.Column("group:N", header=None),
        data=df, spacing=0,
    ).properties(title=alt.TitleParams("Time (days)", orient="bottom", anchor="middle",
                                       dx=axw / 2, offset=4, fontSize=19, font=SERIF,
                                       fontWeight="normal", color="black"))


H1 = 305
H2 = 304
P1 = panel(make_df(LYM_A, LYM_D, LYM_A_FIT, LYM_D_FIT, -3.0), 104, H1, [-3.0, 3.0],
           [-2.5, -1.5, 0, 1.5, 2.5], ".2~g", "log-lymphocytes (count × 10³/μL)", 31, 58)
P2 = panel(make_df(NEU_A, NEU_D, NEU_A_FIT, NEU_D_FIT, -0.98), 104.5, H1, [-0.98, 4.47],
           [-0.5, 0.5, 1.5, 2.5, 4], ".2~g", "log-neutrophils (count × 10³/μL)", 28, 55)
P3 = panel(make_df(DDI_A, DDI_D, DDI_A_FIT, DDI_D_FIT, 3.0), 106.5, H1, [3.0, 11.46],
           [3.5, 5.0, 7.5, 10.0], ".1f", "log-D-dimer (ng/mL)", 28, 55)
P4 = panel(make_df(FER_A, FER_D, FER_A_FIT, FER_D_FIT, 2.0), 104.5, H1, [2.0, 9.26],
           [2.5, 4.0, 6.0, 8.0], ".1f", "log-ferritin (ng/mL)", 28, 55)
P5 = panel(make_df(CRP_A, CRP_D, CRP_A_FIT, CRP_D_FIT, -3.52), 104, H2, [-3.52, 4.49],
           [-3, -1.5, 0, 1.5, 3, 4], ".2~g", "log-C-reactive protein (mg/dL)", 28, 55)
P6 = panel(make_df(GLU_A, GLU_D, GLU_A_FIT, GLU_D_FIT, -0.5), 109.5, H2, [-0.5, 4.48],
           [0.0, 1.0, 2.0, 3.0, 4.0], ".1f", "glucose/100 (mg/dL)", 28, 55)
P7 = panel(make_df(LDH_A, LDH_D, LDH_A_FIT, LDH_D_FIT, -0.52), 106, H2, [-0.52, 13.96],
           [0.0, 2.5, 5.0, 7.5, 10.0, 12.5], ".1f", "LDH/100 (mg/dL)", 28, 55)

hr_rows = []
for a, m, w in zip(HR_AGE, HR_MEN, HR_WOMEN):
    hr_rows.append({"age": a, "hr": m, "sex": "Men"})
    hr_rows.append({"age": a, "hr": w, "sex": "Women"})
hr_df = pd.DataFrame(hr_rows)

P8 = alt.Chart(hr_df).mark_line(color="black", strokeWidth=3).encode(
    x=alt.X("age:Q", scale=alt.Scale(domain=[24.8, 101.9], nice=False, zero=False),
            axis=alt.Axis(values=[40, 60, 80, 100], format="d", title="Age (years)",
                          labelPadding=3, titlePadding=4, labelFlush=12)),
    y=alt.Y("hr:Q", scale=alt.Scale(domain=[-0.56, 15.04], nice=False, zero=False),
            axis=alt.Axis(values=[0, 2.5, 5, 7.5, 10, 12.5], format=".1f",
                          title="Hazard ratio (HR)", labelPadding=2,
                          minExtent=28, maxExtent=28, titlePadding=8)),
    strokeDash=alt.StrokeDash("sex:N", scale=alt.Scale(domain=["Men", "Women"], range=[[12, 7], [1, 0]]),
                              legend=alt.Legend(title=None, orient="none", legendX=912, legendY=406,
                                                symbolType="M-3,0H3", symbolSize=225,
                                                symbolStrokeWidth=3, symbolStrokeColor="black",
                                                labelFont=SERIF, labelFontSize=17, labelColor="black",
                                                labelOffset=27, rowPadding=9)),
    order="age:Q",
).properties(width=203, height=H2)

row1 = alt.hconcat(alt.hconcat(alt.hconcat(P1, P2, spacing=24.5), P3, spacing=21.5), P4, spacing=10)
row2 = alt.hconcat(alt.hconcat(alt.hconcat(P5, P6, spacing=12), P7, spacing=24), P8, spacing=21.5)

chart = alt.vconcat(row1, row2, spacing=29).properties(
    padding={"left": 7, "top": 1, "right": 0, "bottom": 0}
).configure_view(stroke="black", strokeWidth=1.6).configure_axis(
    labelFont=SERIF, titleFont=SERIF, labelFontSize=12, titleFontSize=19,
    titleFontWeight="normal", labelColor="#4d4d4d", titleColor="black",
    tickColor="black", tickWidth=1.2, tickSize=4, grid=False, domain=False,
).configure_title(font=SERIF, fontSize=19, fontWeight="normal", color="black")

chart.save("out.html", embed_options={"renderer": "svg", "actions": False})
